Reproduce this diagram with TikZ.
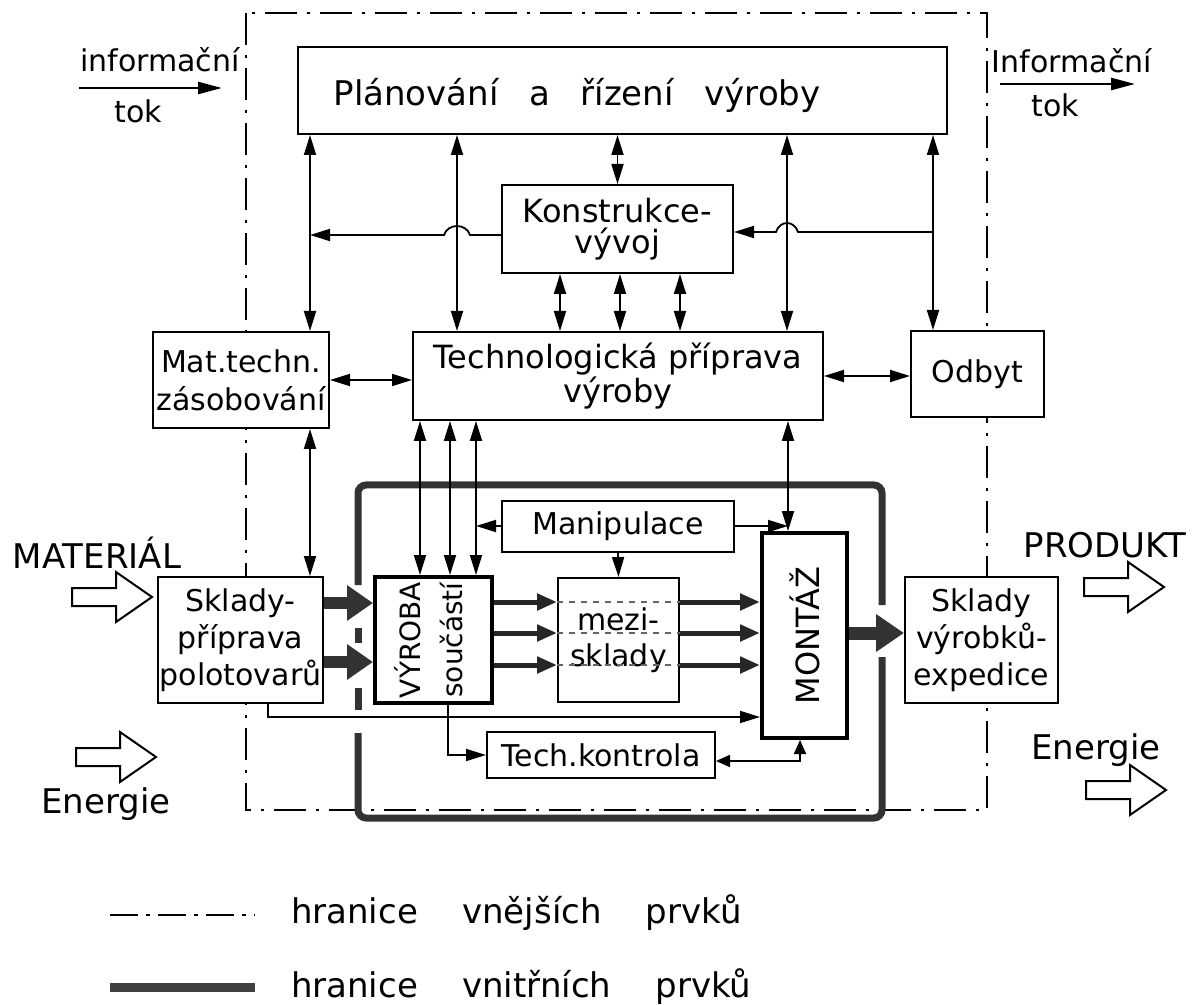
\documentclass[tikz,border=0pt]{standalone}
\usepackage{fontspec}
\setmainfont{DejaVu Sans}
\usetikzlibrary{arrows.meta}

\tikzset{
  >={Triangle[length=10pt,width=6pt]},
  box/.style={draw, line width=1pt, fill=white, inner sep=0pt, align=center, font=\fontsize{15}{18}\selectfont},
  heavybox/.style={box, line width=2pt},
  infolink/.style={line width=0.9pt, <->},
  infofeed/.style={line width=0.9pt, ->},
  partflow/.style={line width=2.5pt, black!85, -{Triangle[length=10pt,width=8pt]}},
  mainflow/.style={line width=6pt, black!80, -{Triangle[length=13pt,width=17pt]}},
  outerline/.style={line width=1pt, dash pattern=on 16pt off 5pt on 1.5pt off 5pt},
  innerline/.style={line width=3.5pt, black!80, rounded corners=4pt},
  lbl/.style={font=\fontsize{17}{20}\selectfont},
  blockarrow/.pic={\draw[line width=1pt] (0,-9) -- (44,-9) -- (44,-25) -- (80,0) -- (44,25) -- (44,9) -- (0,9) -- cycle;}
}

\begin{document}
\begin{tikzpicture}[x=0.5pt,y=-0.5pt]
\useasboundingbox (0,0) rectangle (1194,1005);
% hranice vnejsich prvku
\draw[outerline] (246,13) rectangle (987,810);
% hranice vnitrnich prvku
\draw[innerline] (358,585) |- (882,485) -- (882,605);
\draw[innerline] (358,628) -- (358,643);
\draw[innerline] (358,688) -- (358,710);
\draw[innerline] (358,733) |- (882,818) -- (882,657);

% bloky
\node[box, minimum width=324.5pt, minimum height=43.5pt] (plan) at (622.5,90.5) {};
\node[font=\fontsize{17}{20}\selectfont] (planlbl) at (577,95) {Plánování\hspace{.9em}a\hspace{.9em}řízení\hspace{.9em}výroby};
\node[box, minimum width=115.5pt, minimum height=44pt, font=\fontsize{16}{15.5}\selectfont] (konstr) at (617.5,229) {Konstrukce-\\vývoj};
\node[box, minimum width=205pt, minimum height=44pt, font=\fontsize{16}{15.5}\selectfont] (tech) at (618,376) {Technologická příprava\\výroby};
\node[box, minimum width=88pt, minimum height=48pt, font=\fontsize{15}{19}\selectfont] (mat) at (241,380) {Mat.techn.\\zásobování};
\node[box, minimum width=66.5pt, minimum height=43pt] (odbyt) at (977.5,374) {Odbyt};
\node[box, minimum width=82.5pt, minimum height=63pt, font=\fontsize{15}{18.5}\selectfont] (sklady) at (240.5,640) {Sklady-\\příprava\\polotovarů};
\node[heavybox, minimum width=58.5pt, minimum height=63pt] (vyroba) at (433.5,640)
  {\rotatebox{90}{\fontsize{14}{21}\selectfont\begin{tabular}{@{}c@{}}VÝROBA\\součástí\end{tabular}}};
\node[box, minimum width=60.5pt, minimum height=62pt] (mezi) at (618.5,640) {mezi-\\sklady};
\node[heavybox, minimum width=42.5pt, minimum height=102.5pt, font=\fontsize{16}{18}\selectfont] (montaz) at (804.5,635.5) {\rotatebox{90}{MONTÁŽ}};
\node[box, minimum width=116pt, minimum height=25.5pt] (manip) at (618,526) {Manipulace};
\node[box, minimum width=114pt, minimum height=23pt] (kontr) at (601,755) {Tech.kontrola};
\node[box, minimum width=76.5pt, minimum height=63pt, font=\fontsize{15}{18.5}\selectfont] (expedice) at (981.5,640) {Sklady\\výrobků-\\expedice};

% informacni vazby
\coordinate (kl) at (310,235);
\coordinate (kr) at (933,232);
\draw[infolink] (310,0 |- plan.south) -- (310,0 |- mat.north);
\draw[infolink] (457,0 |- plan.south) -- (457,0 |- tech.north);
\draw[infolink] (plan.south -| konstr.north) -- (konstr.north);
\draw[infolink] (787,0 |- plan.south) -- (787,0 |- tech.north);
\draw[infolink] (933,0 |- plan.south) -- (933,0 |- odbyt.north);
\draw[infofeed] (konstr.west |- kl) -- (470,235) .. controls (466,223) and (448,223) .. (444,235) -- (kl);
\draw[infofeed] (kr) -- (798,232) .. controls (794,220) and (780,220) .. (776,232) -- (konstr.east |- kr);
\foreach \x in {560,620,680}
  \draw[infolink] (\x,0 |- konstr.south) -- (\x,0 |- tech.north);
\draw[infolink] (mat.east) -- (mat.east -| tech.west);
\draw[infolink] (tech.east) -- (tech.east -| odbyt.west);
\draw[infolink] (310,0 |- mat.south) -- (310,0 |- sklady.north);
\foreach \x in {420,450,476}
  \draw[infolink] (\x,0 |- tech.south) -- (\x,0 |- vyroba.north);
\draw[infolink] (788,0 |- tech.south) -- (788,0 |- montaz.north);
\draw[infofeed] (manip.west) -- (476,0 |- manip.west);
\draw[infofeed] (manip.east) -- (788,0 |- manip.east);
\draw[infofeed] (manip.south) -- (mezi.north);
\draw[infofeed] (268,0 |- sklady.south) |- (montaz.west |- 0,717);
\draw[infofeed] (448,0 |- vyroba.south) |- (kontr.west);
\draw[line width=0.9pt, {Triangle[length=7pt,width=6pt]}-{Triangle[length=7pt,width=6pt]}]
  (kontr.east |- 0,761) -| (800,0 |- montaz.south);

% materialovy tok
\foreach \y in {603,662}
  \draw[mainflow] (sklady.east |- 0,\y) -- (vyroba.west |- 0,\y);
\foreach \y in {602,633,665} {
  \draw[dashed, line width=0.7pt, black!60] (mezi.west |- 0,\y) -- (mezi.east |- 0,\y);
  \draw[partflow] (vyroba.east |- 0,\y) -- (mezi.west |- 0,\y);
  \draw[partflow] (mezi.east |- 0,\y) -- (montaz.west |- 0,\y);
}
\draw[mainflow, line width=6.5pt, -{Triangle[length=14pt,width=18pt]}] (montaz.east |- 0,633) -- (expedice.west |- 0,633);

% vstupy a vystupy
\node[font=\fontsize{15}{18}\selectfont] (infoL) at (160,60) {informační};
\node[font=\fontsize{15}{18}\selectfont] (tokL) at (138,111) {tok};
\coordinate (infoLa) at (79,88);
\coordinate (infoLb) at (222,88);
\draw[line width=1.3pt, -{Triangle[length=12pt,width=6pt]}] (infoLa) -- (infoLb);
\node[font=\fontsize{15}{18}\selectfont] (infoR) at (1072,61) {Informační};
\node[font=\fontsize{15}{18}\selectfont] (tokR) at (1055,105) {tok};
\coordinate (infoRa) at (1000,84);
\coordinate (infoRb) at (1135,84);
\draw[line width=1.3pt, -{Triangle[length=12pt,width=6pt]}] (infoRa) -- (infoRb);

\node[lbl, anchor=base] (material) at (97,568) {MATERIÁL};
\pic at (72,597) {blockarrow};
\node[lbl, anchor=base] (energieL) at (106,813) {Energie};
\pic at (76,757) {blockarrow};
\node[lbl, anchor=base] (produkt) at (1105,557) {PRODUKT};
\pic at (1084,587) {blockarrow};
\node[lbl, anchor=base] (energieR) at (1096,759) {Energie};
\pic at (1086,790) {blockarrow};

% legenda
\coordinate (lga) at (110,915);
\coordinate (lgb) at (255,915);
\draw[line width=1pt, dash pattern=on 14pt off 4pt on 2pt off 4pt] (lga) -- (lgb);
\node[lbl, anchor=base west] (lg1) at (284,923) {hranice\hspace{1.3em}vnějších\hspace{1.3em}prvků};
\coordinate (lgc) at (110,987);
\coordinate (lgd) at (255,987);
\draw[black!75, line width=4.5pt] (lgc) -- (lgd);
\node[lbl, anchor=base west] (lg2) at (284,997) {hranice\hspace{1.3em}vnitřních\hspace{1.3em}prvků};
\end{tikzpicture}
\end{document}
